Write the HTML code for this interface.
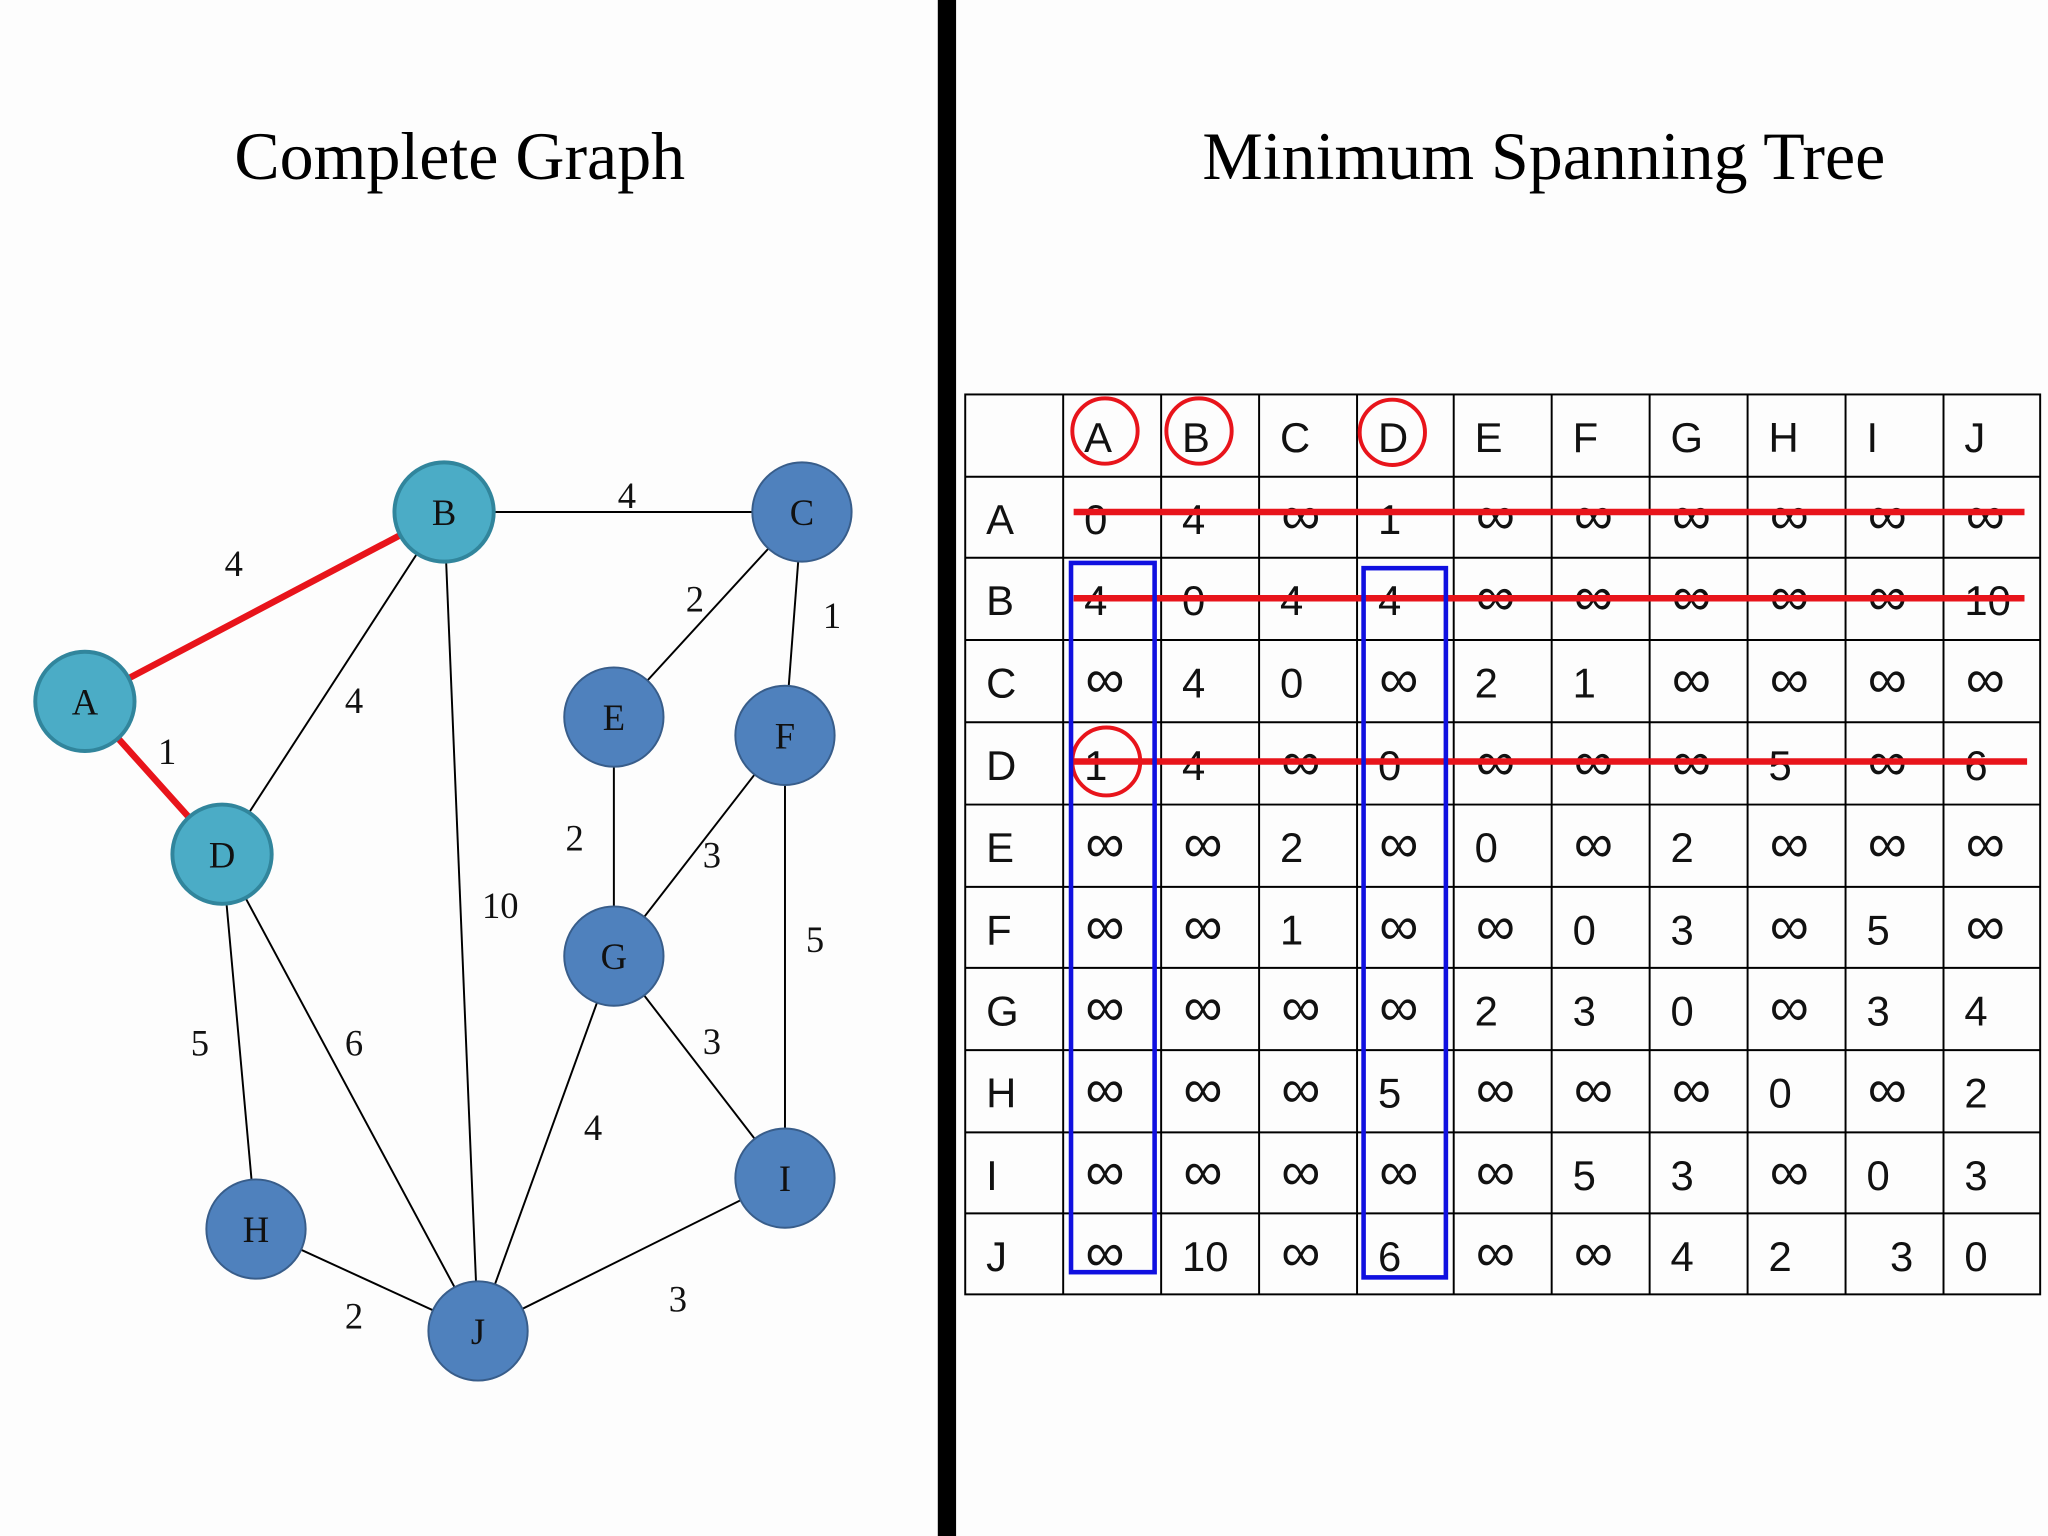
<!DOCTYPE html>
<html><head><meta charset="utf-8"><style>
html,body{margin:0;padding:0;background:#fdfdfd;}
svg{display:block;}
.t{font-family:"Liberation Serif",serif;}
.s{font-family:"Liberation Sans","DejaVu Sans",sans-serif;font-size:32px;fill:#111;}
.s .i{font-size:42px;}
.n{font-family:"Liberation Serif",serif;font-size:28px;fill:#111;text-anchor:middle;}
.w{font-family:"Liberation Serif",serif;font-size:28px;fill:#111;}
</style></head><body>
<svg width="2048" height="1536" viewBox="0 0 1568 1176" xmlns="http://www.w3.org/2000/svg">
<rect width="1568" height="1176" fill="#fdfdfd"/>
<rect x="718" y="0" width="14" height="1176" fill="#000"/>
<text class="t" x="352" y="137" font-size="52" text-anchor="middle">Complete Graph</text>
<text class="t" x="1182" y="137" font-size="52" text-anchor="middle">Minimum Spanning Tree</text>
<g stroke="#000" stroke-width="1.5">
<line x1="340" y1="392" x2="614" y2="392"/>
<line x1="340" y1="392" x2="170" y2="654"/>
<line x1="340" y1="392" x2="366" y2="1019"/>
<line x1="614" y1="392" x2="470" y2="549"/>
<line x1="614" y1="392" x2="601" y2="563"/>
<line x1="470" y1="549" x2="470" y2="732"/>
<line x1="601" y1="563" x2="470" y2="732"/>
<line x1="601" y1="563" x2="601" y2="902"/>
<line x1="470" y1="732" x2="601" y2="902"/>
<line x1="470" y1="732" x2="366" y2="1019"/>
<line x1="170" y1="654" x2="196" y2="941"/>
<line x1="170" y1="654" x2="366" y2="1019"/>
<line x1="196" y1="941" x2="366" y2="1019"/>
<line x1="601" y1="902" x2="366" y2="1019"/>
</g>
<g stroke="#e8141b" stroke-width="5">
<line x1="65" y1="537" x2="340" y2="392"/>
<line x1="65" y1="537" x2="170" y2="654"/>
</g>
<g stroke-width="3">
<circle cx="65" cy="537" r="38" fill="#4bacc6" stroke="#31859c"/>
<circle cx="340" cy="392" r="38" fill="#4bacc6" stroke="#31859c"/>
<circle cx="170" cy="654" r="38" fill="#4bacc6" stroke="#31859c"/>
<circle cx="614" cy="392" r="38" fill="#4f81bd" stroke="#385d8a" stroke-width="1.5"/>
<circle cx="470" cy="549" r="38" fill="#4f81bd" stroke="#385d8a" stroke-width="1.5"/>
<circle cx="601" cy="563" r="38" fill="#4f81bd" stroke="#385d8a" stroke-width="1.5"/>
<circle cx="470" cy="732" r="38" fill="#4f81bd" stroke="#385d8a" stroke-width="1.5"/>
<circle cx="196" cy="941" r="38" fill="#4f81bd" stroke="#385d8a" stroke-width="1.5"/>
<circle cx="601" cy="902" r="38" fill="#4f81bd" stroke="#385d8a" stroke-width="1.5"/>
<circle cx="366" cy="1019" r="38" fill="#4f81bd" stroke="#385d8a" stroke-width="1.5"/>
</g>
<text class="n" x="65" y="547">A</text><text class="n" x="340" y="402">B</text>
<text class="n" x="614" y="402">C</text><text class="n" x="170" y="664">D</text>
<text class="n" x="470" y="559">E</text><text class="n" x="601" y="573">F</text>
<text class="n" x="470" y="742">G</text><text class="n" x="196" y="951">H</text>
<text class="n" x="601" y="912">I</text><text class="n" x="366" y="1029">J</text>
<text class="w" x="172" y="441">4</text><text class="w" x="121" y="585">1</text>
<text class="w" x="473" y="389">4</text><text class="w" x="264" y="546">4</text>
<text class="w" x="525" y="468">2</text><text class="w" x="630" y="481">1</text>
<text class="w" x="369" y="703">10</text><text class="w" x="433" y="651">2</text>
<text class="w" x="538" y="664">3</text><text class="w" x="617" y="729">5</text>
<text class="w" x="146" y="808">5</text><text class="w" x="264" y="808">6</text>
<text class="w" x="538" y="807">3</text><text class="w" x="447" y="873">4</text>
<text class="w" x="264" y="1017">2</text><text class="w" x="512" y="1004">3</text>
<g stroke="#000" stroke-width="1.5" fill="none">
<rect x="739" y="302" width="823" height="689"/>
<line x1="814" y1="302" x2="814" y2="991"/><line x1="889" y1="302" x2="889" y2="991"/>
<line x1="964" y1="302" x2="964" y2="991"/><line x1="1039" y1="302" x2="1039" y2="991"/>
<line x1="1113" y1="302" x2="1113" y2="991"/><line x1="1188" y1="302" x2="1188" y2="991"/>
<line x1="1263" y1="302" x2="1263" y2="991"/><line x1="1338" y1="302" x2="1338" y2="991"/>
<line x1="1413" y1="302" x2="1413" y2="991"/><line x1="1488" y1="302" x2="1488" y2="991"/>
<line x1="739" y1="365" x2="1562" y2="365"/><line x1="739" y1="427" x2="1562" y2="427"/>
<line x1="739" y1="490" x2="1562" y2="490"/><line x1="739" y1="553" x2="1562" y2="553"/>
<line x1="739" y1="616" x2="1562" y2="616"/><line x1="739" y1="679" x2="1562" y2="679"/>
<line x1="739" y1="741" x2="1562" y2="741"/><line x1="739" y1="804" x2="1562" y2="804"/>
<line x1="739" y1="867" x2="1562" y2="867"/><line x1="739" y1="929" x2="1562" y2="929"/>
</g>
<g class="s">
<text x="830" y="346">A</text><text x="905" y="346">B</text><text x="980" y="346">C</text><text x="1055" y="346">D</text><text x="1129" y="346">E</text><text x="1204" y="346">F</text><text x="1279" y="346">G</text><text x="1354" y="346">H</text><text x="1429" y="346">I</text><text x="1504" y="346">J</text>
<text x="755" y="409">A</text><text x="755" y="471">B</text><text x="755" y="534">C</text><text x="755" y="597">D</text><text x="755" y="660">E</text><text x="755" y="723">F</text><text x="755" y="785">G</text><text x="755" y="848">H</text><text x="755" y="911">I</text><text x="755" y="973">J</text>
<text x="830" y="409">0</text><text x="905" y="409">4</text><text class="i" x="981" y="409">∞</text><text x="1055" y="409">1</text><text class="i" x="1130" y="409">∞</text><text class="i" x="1205" y="409">∞</text><text class="i" x="1280" y="409">∞</text><text class="i" x="1355" y="409">∞</text><text class="i" x="1430" y="409">∞</text><text class="i" x="1505" y="409">∞</text>
<text x="830" y="471">4</text><text x="905" y="471">0</text><text x="980" y="471">4</text><text x="1055" y="471">4</text><text class="i" x="1130" y="471">∞</text><text class="i" x="1205" y="471">∞</text><text class="i" x="1280" y="471">∞</text><text class="i" x="1355" y="471">∞</text><text class="i" x="1430" y="471">∞</text><text x="1504" y="471">10</text>
<text class="i" x="831" y="534">∞</text><text x="905" y="534">4</text><text x="980" y="534">0</text><text class="i" x="1056" y="534">∞</text><text x="1129" y="534">2</text><text x="1204" y="534">1</text><text class="i" x="1280" y="534">∞</text><text class="i" x="1355" y="534">∞</text><text class="i" x="1430" y="534">∞</text><text class="i" x="1505" y="534">∞</text>
<text x="830" y="597">1</text><text x="905" y="597">4</text><text class="i" x="981" y="597">∞</text><text x="1055" y="597">0</text><text class="i" x="1130" y="597">∞</text><text class="i" x="1205" y="597">∞</text><text class="i" x="1280" y="597">∞</text><text x="1354" y="597">5</text><text class="i" x="1430" y="597">∞</text><text x="1504" y="597">6</text>
<text class="i" x="831" y="660">∞</text><text class="i" x="906" y="660">∞</text><text x="980" y="660">2</text><text class="i" x="1056" y="660">∞</text><text x="1129" y="660">0</text><text class="i" x="1205" y="660">∞</text><text x="1279" y="660">2</text><text class="i" x="1355" y="660">∞</text><text class="i" x="1430" y="660">∞</text><text class="i" x="1505" y="660">∞</text>
<text class="i" x="831" y="723">∞</text><text class="i" x="906" y="723">∞</text><text x="980" y="723">1</text><text class="i" x="1056" y="723">∞</text><text class="i" x="1130" y="723">∞</text><text x="1204" y="723">0</text><text x="1279" y="723">3</text><text class="i" x="1355" y="723">∞</text><text x="1429" y="723">5</text><text class="i" x="1505" y="723">∞</text>
<text class="i" x="831" y="785">∞</text><text class="i" x="906" y="785">∞</text><text class="i" x="981" y="785">∞</text><text class="i" x="1056" y="785">∞</text><text x="1129" y="785">2</text><text x="1204" y="785">3</text><text x="1279" y="785">0</text><text class="i" x="1355" y="785">∞</text><text x="1429" y="785">3</text><text x="1504" y="785">4</text>
<text class="i" x="831" y="848">∞</text><text class="i" x="906" y="848">∞</text><text class="i" x="981" y="848">∞</text><text x="1055" y="848">5</text><text class="i" x="1130" y="848">∞</text><text class="i" x="1205" y="848">∞</text><text class="i" x="1280" y="848">∞</text><text x="1354" y="848">0</text><text class="i" x="1430" y="848">∞</text><text x="1504" y="848">2</text>
<text class="i" x="831" y="911">∞</text><text class="i" x="906" y="911">∞</text><text class="i" x="981" y="911">∞</text><text class="i" x="1056" y="911">∞</text><text class="i" x="1130" y="911">∞</text><text x="1204" y="911">5</text><text x="1279" y="911">3</text><text class="i" x="1355" y="911">∞</text><text x="1429" y="911">0</text><text x="1504" y="911">3</text>
<text class="i" x="831" y="973">∞</text><text x="905" y="973">10</text><text class="i" x="981" y="973">∞</text><text x="1055" y="973">6</text><text class="i" x="1130" y="973">∞</text><text class="i" x="1205" y="973">∞</text><text x="1279" y="973">4</text><text x="1354" y="973">2</text><text x="1447" y="973">3</text><text x="1504" y="973">0</text>
</g>
<g stroke="#e8141b" stroke-width="5">
<line x1="822" y1="392" x2="1550" y2="392"/>
<line x1="822" y1="458" x2="1550" y2="458"/>
<line x1="822" y1="583" x2="1552" y2="583"/>
</g>
<g stroke="#e8141b" stroke-width="3" fill="none">
<circle cx="846" cy="330" r="25"/><circle cx="918" cy="330" r="25"/>
<circle cx="1066" cy="331" r="25"/><circle cx="847" cy="583" r="26"/>
</g>
<g stroke="#1010e0" stroke-width="3.5" fill="none">
<rect x="820" y="431" width="64" height="543"/>
<rect x="1044" y="435" width="63" height="543"/>
</g>
</svg>
</body></html>
